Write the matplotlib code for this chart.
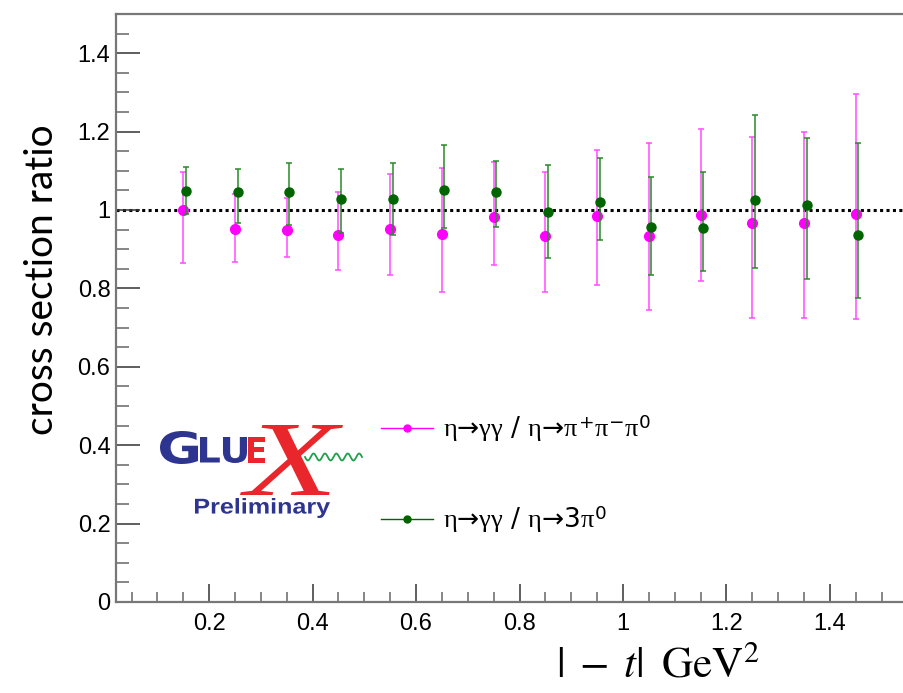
import numpy as np
import matplotlib
matplotlib.use("Agg")
import matplotlib.pyplot as plt
import matplotlib.transforms as mtransforms
from matplotlib.textpath import TextPath
from matplotlib.patches import PathPatch
from matplotlib.font_manager import FontProperties
from matplotlib.ticker import MultipleLocator, FormatStrFormatter

# |t| bin centres (GeV^2)
t_bins = [0.15, 0.25, 0.35, 0.45, 0.55, 0.65, 0.75, 0.85, 0.95, 1.05, 1.15, 1.25, 1.35, 1.45]

# eta->gg / eta->pi+pi-pi0
ratio_3pic = [1.000, 0.952, 0.949, 0.936, 0.951, 0.940, 0.982, 0.934, 0.985, 0.934, 0.987, 0.968, 0.968, 0.989]
err_up_3pic = [0.098, 0.088, 0.082, 0.111, 0.140, 0.168, 0.141, 0.164, 0.168, 0.238, 0.220, 0.218, 0.230, 0.308]
err_dn_3pic = [0.136, 0.085, 0.069, 0.089, 0.118, 0.149, 0.123, 0.142, 0.176, 0.188, 0.167, 0.244, 0.244, 0.268]

# eta->gg / eta->3pi0
ratio_3pi0 = [1.048, 1.047, 1.047, 1.029, 1.029, 1.050, 1.046, 0.994, 1.020, 0.956, 0.953, 1.026, 1.013, 0.936]
err_up_3pi0 = [0.062, 0.058, 0.074, 0.075, 0.092, 0.115, 0.080, 0.120, 0.113, 0.128, 0.143, 0.216, 0.170, 0.234]
err_dn_3pi0 = [0.058, 0.081, 0.085, 0.087, 0.093, 0.096, 0.089, 0.116, 0.097, 0.121, 0.108, 0.173, 0.189, 0.160]

# literal arrows keep mathtext from padding them like relations
labels = [r"$\eta$→$\gamma\gamma$ / $\eta$→$\pi^{+}\pi^{-}\pi^{0}$",
          r"$\eta$→$\gamma\gamma$ / $\eta$→3$\pi^{0}$"]

W, H = 904, 693
# upright serif greek, sans digits and arrows
plt.rcParams["mathtext.fontset"] = "custom"
plt.rcParams["mathtext.rm"] = "DejaVu Sans"
plt.rcParams["mathtext.it"] = "Liberation Serif"
plt.rcParams["mathtext.bf"] = "DejaVu Sans:bold"

fig = plt.figure(figsize=(W / 100, H / 100), dpi=100)
# axes run a little past the right edge of the canvas
ax = fig.add_axes([116 / W, 91 / H, 807 / W, 588 / H])
ax.set_xlim(0.02, 1.58)
ax.set_ylim(0, 1.5)

pink, pink_err = "#ff00ff", "#ff4cff"
green, green_err = "#006400", "#2a8a2a"

t = np.array(t_bins)
ax.axhline(1.0, color="black", lw=2.2, ls=(0, (1, 1.1)), zorder=1)
ax.errorbar(t, ratio_3pic, yerr=[err_dn_3pic, err_up_3pic], fmt="o", ms=7,
            color=pink, ecolor=pink_err, elinewidth=1.1, capsize=2, capthick=1.1, zorder=3)
ax.errorbar(t + 0.005, ratio_3pi0, yerr=[err_dn_3pi0, err_up_3pi0], fmt="o", ms=6.5,
            color=green, ecolor=green_err, elinewidth=1.1, capsize=2, capthick=1.1, zorder=4)

# ROOT-like frame and ticks
for side in ["left", "bottom", "top"]:
    ax.spines[side].set_color("#777777")
    ax.spines[side].set_linewidth(1.6)
ax.spines["right"].set_visible(False)
ax.xaxis.set_major_locator(MultipleLocator(0.2))
ax.xaxis.set_minor_locator(MultipleLocator(0.05))
ax.yaxis.set_major_locator(MultipleLocator(0.2))
ax.yaxis.set_minor_locator(MultipleLocator(0.05))
ax.xaxis.set_major_formatter(FormatStrFormatter("%g"))
ax.yaxis.set_major_formatter(FormatStrFormatter("%g"))
ax.tick_params(axis="y", which="major", direction="in", length=17, width=1.1, color="#333333",
               pad=4, labelsize=17)
ax.tick_params(axis="y", which="minor", direction="in", length=9, width=1.1, color="#666666")
ax.tick_params(axis="x", which="major", direction="in", length=13, width=1.1, color="#333333",
               pad=8, labelsize=17)
ax.tick_params(axis="x", which="minor", direction="in", length=7, width=1.1, color="#666666")
for lab in ax.get_xticklabels() + ax.get_yticklabels():
    lab.set_fontfamily("Liberation Sans")

fig.text(42 / W, 1 - 280 / H, "cross section ratio", rotation=90, ha="center", va="center",
         fontsize=28, family="Lato")
fig.text(658 / W, 1 - 666 / H, r"$|\;-\;t|\;\;\mathrm{GeV}^2$", ha="center", va="center",
         fontsize=31, math_fontfamily="stix")

# pixel coordinates measured from the top-left corner
pix = mtransforms.Affine2D().scale(1 / W, -1 / H).translate(0, 1) + fig.transFigure

# legend
for y, c, lab in [(428, pink, labels[0]), (519, green, labels[1])]:
    fig.add_artist(plt.Line2D([381, 433], [y, y], color=c, lw=1, transform=pix))
    fig.add_artist(plt.Line2D([407], [y], color=c, marker="o", ms=5, transform=pix))
    fig.text(443, y, lab, transform=pix, ha="left", va="center", fontsize=19,
             math_fontfamily="custom")


def logo_piece(s, x0, y0, x1, y1, color, prop):
    tp = TextPath((0, 0), s, size=100, prop=prop)
    bb = tp.get_extents()
    tr = (mtransforms.Affine2D().translate(-bb.x0, -bb.y1)
          .scale((x1 - x0) / bb.width, -(y1 - y0) / bb.height).translate(x0, y0))
    fig.add_artist(PathPatch(tp, transform=tr + pix, facecolor=color, lw=0))


blue, red = "#2d3590", "#e8262b"
bold = FontProperties(family="DejaVu Sans", weight="bold")
logo_piece("X", 240, 425, 343, 495, red, FontProperties(family="Liberation Serif", style="italic"))
logo_piece("G", 160, 431, 198, 464, blue, bold)
logo_piece("LU", 200, 437, 247, 463, blue, bold)
logo_piece("E", 248, 437, 265, 463, red, bold)
logo_piece("Preliminary", 195, 498, 330, 518, blue, FontProperties(family="Liberation Sans", weight="bold"))
wx = np.linspace(305, 362, 200)
fig.add_artist(plt.Line2D(wx, 457 + 3.5 * np.sin((wx - 305) / 57 * 5 * 2 * np.pi),
                          color="#1fa04a", lw=1.3, transform=pix))

fig.savefig("out.png", dpi=100)
